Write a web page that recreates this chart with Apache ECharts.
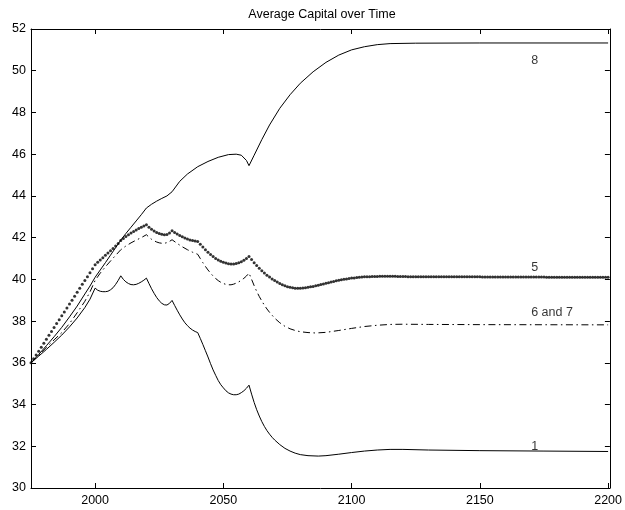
<!DOCTYPE html>
<html>
<head>
<meta charset="utf-8">
<script src="https://cdn.jsdelivr.net/npm/echarts@6/dist/echarts.min.js"></script>
<style>
  html, body { margin: 0; padding: 0; background: #fff; }
  #chart { width: 625px; height: 510px; }
</style>
</head>
<body>
<div id="chart"></div>
<script>
// Tick marks on the time axis
const xTickYears = [2000, 2050, 2100, 2150, 2200];

// Run 8 (solid, top)
const years8 = [1975, 1978, 1981, 1984, 1987, 1990, 1993, 1996, 1998, 2000,
  2002, 2004, 2006, 2008, 2010, 2012, 2014, 2016, 2018, 2020,
  2022, 2024, 2026, 2028, 2030, 2033, 2036, 2040, 2044, 2048,
  2052, 2055, 2057, 2059, 2060, 2062, 2065, 2068, 2072, 2076,
  2080, 2085, 2090, 2095, 2100, 2105, 2110, 2115, 2125, 2150, 2200];
const capital8 = [36.0, 36.4, 36.82, 37.25, 37.7, 38.2, 38.72, 39.3, 39.68, 40.1,
  40.45, 40.8, 41.16, 41.52, 41.88, 42.2, 42.5, 42.8, 43.1, 43.42,
  43.6, 43.75, 43.88, 44.0, 44.2, 44.7, 45.05, 45.4, 45.65, 45.85,
  45.98, 46.0, 45.95, 45.7, 45.45, 45.95, 46.7, 47.4, 48.2, 48.85,
  49.4, 49.95, 50.4, 50.75, 51.0, 51.15, 51.25, 51.3, 51.32, 51.33, 51.33];

// Runs 6 and 7 (dash-dot)
const years67 = [1975, 1978, 1981, 1984, 1987, 1990, 1993, 1996, 1998, 2000,
  2002, 2004, 2006, 2008, 2010, 2012, 2014, 2016, 2018, 2020,
  2021, 2022, 2023, 2024, 2025, 2026, 2027, 2028, 2029, 2030,
  2032, 2034, 2036, 2038, 2040, 2041, 2042, 2043, 2044, 2045,
  2046, 2047, 2048, 2049, 2050, 2051, 2052, 2053, 2054, 2055,
  2056, 2057, 2058, 2059, 2060, 2061, 2062, 2063, 2064, 2065,
  2066, 2067, 2068, 2070, 2072, 2074, 2076, 2078, 2080, 2083,
  2086, 2090, 2095, 2100, 2105, 2110, 2115, 2120, 2130, 2150, 2200];
const capital67 = [36.0, 36.36, 36.74, 37.1, 37.45, 37.88, 38.4, 38.95, 39.4, 39.95,
  40.3, 40.6, 40.88, 41.15, 41.42, 41.6, 41.75, 41.88, 42.0, 42.14,
  42.02, 41.92, 41.85, 41.79, 41.75, 41.73, 41.73, 41.76, 41.82, 41.9,
  41.72, 41.56, 41.42, 41.3, 41.2, 41.0, 40.8, 40.62, 40.45, 40.3,
  40.16, 40.04, 39.94, 39.86, 39.8, 39.76, 39.74, 39.74, 39.77, 39.82,
  39.88, 39.96, 40.05, 40.16, 40.3, 40.0, 39.7, 39.42, 39.18, 38.96,
  38.76, 38.58, 38.42, 38.14, 37.92, 37.75, 37.63, 37.55, 37.49, 37.45,
  37.43, 37.46, 37.55, 37.65, 37.74, 37.8, 37.84, 37.85, 37.84, 37.83, 37.82];

// Run 1 (solid, bottom)
const years1 = [1975, 1978, 1981, 1984, 1987, 1990, 1993, 1996, 1998, 2000,
  2001, 2002, 2003, 2004, 2005, 2006, 2007, 2008, 2009, 2010,
  2011, 2012, 2013, 2014, 2015, 2016, 2017, 2018, 2019, 2020,
  2021, 2022, 2023, 2024, 2025, 2026, 2027, 2028, 2029, 2030,
  2031, 2032, 2033, 2034, 2035, 2036, 2037, 2038, 2039, 2040,
  2041, 2042, 2043, 2044, 2045, 2046, 2047, 2048, 2049, 2050,
  2051, 2052, 2053, 2054, 2055, 2056, 2057, 2058, 2059, 2060,
  2061, 2062, 2063, 2064, 2065, 2066, 2067, 2068, 2069, 2070,
  2072, 2074, 2076, 2078, 2080, 2083, 2087, 2090, 2095, 2100,
  2105, 2110, 2115, 2120, 2130, 2150, 2175, 2200];
const capital1 = [36.0, 36.32, 36.64, 36.98, 37.33, 37.72, 38.15, 38.65, 39.05, 39.58,
  39.48, 39.43, 39.41, 39.41, 39.43, 39.5, 39.6, 39.76, 39.95, 40.17,
  40.0, 39.88, 39.8, 39.75, 39.74, 39.76, 39.81, 39.88, 39.96, 40.06,
  39.8, 39.55, 39.33, 39.13, 38.97, 38.85, 38.78, 38.77, 38.85, 38.99,
  38.75, 38.52, 38.3, 38.1, 37.92, 37.78, 37.66, 37.57, 37.5, 37.45,
  37.17, 36.88, 36.58, 36.28, 35.96, 35.66, 35.4, 35.15, 34.95, 34.8,
  34.66, 34.56, 34.5, 34.47, 34.47, 34.5, 34.57, 34.66, 34.78, 34.93,
  34.5, 34.1, 33.75, 33.45, 33.18, 32.95, 32.75, 32.58, 32.43, 32.3,
  32.08, 31.9, 31.77, 31.67, 31.6, 31.55, 31.53, 31.55, 31.62, 31.7,
  31.77, 31.82, 31.85, 31.85, 31.82, 31.79, 31.77, 31.75];

// Run 5 (dotted markers, one per year from 1975)
const firstYear5 = 1975;
const capital5 = [
  36.00, 36.19, 36.38, 36.56, 36.75, 36.94, 37.13, 37.32, 37.50, 37.69,
  37.88, 38.07, 38.26, 38.44, 38.63, 38.82, 39.00, 39.19, 39.38, 39.57,
  39.76, 39.94, 40.13, 40.32, 40.51, 40.70, 40.82, 40.93, 41.04, 41.15,
  41.26, 41.37, 41.48, 41.60, 41.72, 41.86, 41.96, 42.05, 42.14, 42.22,
  42.30, 42.37, 42.44, 42.50, 42.56, 42.62, 42.50, 42.40, 42.32, 42.25,
  42.20, 42.16, 42.14, 42.15, 42.22, 42.33, 42.25, 42.17, 42.10, 42.04,
  41.98, 41.93, 41.89, 41.86, 41.84, 41.82, 41.68, 41.55, 41.42, 41.30,
  41.19, 41.09, 41.00, 40.93, 40.87, 40.82, 40.78, 40.75, 40.74, 40.74,
  40.76, 40.80, 40.85, 40.92, 41.00, 41.10, 40.95, 40.80, 40.66, 40.53,
  40.41, 40.30, 40.20, 40.11, 40.02, 39.94, 39.87, 39.80, 39.74, 39.69,
  39.65, 39.62, 39.60, 39.58, 39.58, 39.58, 39.59, 39.60, 39.62, 39.64,
  39.66, 39.69, 39.72, 39.75, 39.78, 39.81, 39.84, 39.87, 39.90, 39.93,
  39.96, 39.98, 40.00, 40.02, 40.04, 40.06, 40.07, 40.09, 40.10, 40.11,
  40.12, 40.13, 40.13, 40.14, 40.14, 40.14, 40.15, 40.15, 40.15, 40.15,
  40.15, 40.15, 40.15, 40.14, 40.14, 40.14, 40.14, 40.13, 40.13, 40.13,
  40.13, 40.13, 40.12, 40.12, 40.12, 40.12, 40.12, 40.12, 40.12, 40.12,
  40.12, 40.12, 40.12, 40.12, 40.12, 40.12, 40.12, 40.12, 40.12, 40.12,
  40.12, 40.12, 40.12, 40.12, 40.12, 40.12, 40.11, 40.11, 40.11, 40.11,
  40.11, 40.11, 40.11, 40.11, 40.11, 40.11, 40.11, 40.11, 40.11, 40.11,
  40.11, 40.11, 40.11, 40.11, 40.11, 40.11, 40.11, 40.11, 40.11, 40.11,
  40.11, 40.10, 40.10, 40.10, 40.10, 40.10, 40.10, 40.10, 40.10, 40.10,
  40.10, 40.10, 40.10, 40.10, 40.10, 40.10, 40.10, 40.10, 40.10, 40.10,
  40.10, 40.10, 40.10, 40.10, 40.10, 40.10
];

// Run labels placed in data space
const labelTexts = ['8', '5', '6 and 7', '1'];
const labelYears = [2170, 2170, 2170, 2170];
const labelValues = [50.5, 40.55, 38.4, 32.0];

const FONT = '"Liberation Sans", Arial, Helvetica, sans-serif';
const X_MIN = 1975, X_MAX = 2200.7, Y_MIN = 30, Y_MAX = 52;

const pairs = (xs, ys) => xs.map((x, i) => [x, ys[i]]);
const data5 = capital5.map((v, i) => [firstYear5 + i, v]);

const chart = echarts.init(document.getElementById('chart'), null, { renderer: 'canvas' });

// Boxed axes with short inward ticks on every side
const axisLineStyle = { show: true, lineStyle: { color: '#000', width: 1 } };
const xTick = { show: true, inside: true, length: 5, customValues: xTickYears, lineStyle: { color: '#000', width: 1 } };
const yTick = { show: true, inside: true, length: 5, lineStyle: { color: '#000', width: 1 } };

chart.setOption({
  animation: false,
  backgroundColor: '#fff',
  textStyle: { fontFamily: FONT },
  graphic: [{
    type: 'text',
    x: 322, y: 15,
    style: {
      text: 'Average Capital over Time',
      fill: '#000',
      font: '12.5px ' + FONT,
      textAlign: 'center',
      textVerticalAlign: 'middle'
    }
  }],
  grid: { left: 31, right: 12, top: 29, bottom: 22, containLabel: false },
  xAxis: [{
    type: 'value', position: 'bottom', min: X_MIN, max: X_MAX,
    axisLine: axisLineStyle,
    axisTick: xTick,
    axisLabel: {
      show: true, customValues: xTickYears, color: '#000', fontSize: 12.5, margin: 6,
      fontFamily: FONT, formatter: v => String(v)
    },
    splitLine: { show: false }
  }, {
    type: 'value', position: 'top', min: X_MIN, max: X_MAX,
    axisLine: axisLineStyle,
    axisTick: xTick,
    axisLabel: { show: false },
    splitLine: { show: false }
  }],
  yAxis: [{
    type: 'value', position: 'left', min: Y_MIN, max: Y_MAX, interval: 2,
    axisLine: axisLineStyle,
    axisTick: yTick,
    axisLabel: { color: '#000', fontSize: 12.5, margin: 5, fontFamily: FONT },
    splitLine: { show: false }
  }, {
    type: 'value', position: 'right', min: Y_MIN, max: Y_MAX, interval: 2,
    axisLine: axisLineStyle,
    axisTick: yTick,
    axisLabel: { show: false },
    splitLine: { show: false }
  }],
  series: [{
    name: '8', type: 'line', data: pairs(years8, capital8),
    symbol: 'none', lineStyle: { color: '#000', width: 1 }
  }, {
    name: '6 and 7', type: 'line', data: pairs(years67, capital67),
    symbol: 'none', lineStyle: { color: '#000', width: 1, type: [7, 3.5, 1.5, 3.5] }
  }, {
    name: '1', type: 'line', data: pairs(years1, capital1),
    symbol: 'none', lineStyle: { color: '#000', width: 1 }
  }, {
    name: '5', type: 'scatter', data: data5,
    symbol: 'circle', symbolSize: 3,
    itemStyle: { color: '#000' }
  }, {
    name: 'labels', type: 'scatter', symbolSize: 0,
    data: labelYears.map((x, i) => ({ value: [x, labelValues[i]], name: labelTexts[i] })),
    label: {
      show: true, position: 'right', distance: 0,
      formatter: p => p.name, color: '#000', fontSize: 12.5, fontFamily: FONT
    },
    silent: true
  }]
});
</script>
</body>
</html>
